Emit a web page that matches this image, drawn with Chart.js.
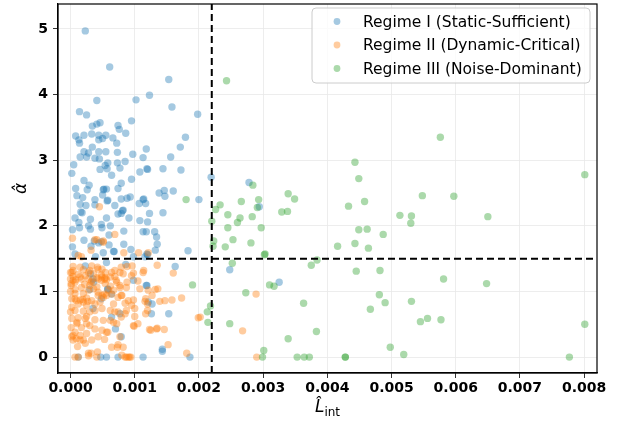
<!DOCTYPE html>
<html>
<head>
<meta charset="utf-8">
<script src="https://cdn.jsdelivr.net/npm/chart.js@4.4.0/dist/chart.umd.min.js"></script>
<style>
    html, body { margin: 0; padding: 0; background: #ffffff; }
</style>
</head>
<body>
<canvas id="regimeChart" width="618" height="427"></canvas>
<script>
// data: [L_int, alpha]
const regime1Points = [
    [0.00023, 4.97], [0.00061, 4.42], [0.00153, 4.23], [0.00123, 3.99], [0.00102, 3.92],
    [0.00041, 3.91], [0.00158, 3.81], [0.00014, 3.74], [0.00025, 3.69], [0.00198, 3.70],
    [0.00095, 3.60], [0.00046, 3.57], [0.00041, 3.55], [0.00034, 3.52], [0.00074, 3.53],
    [0.00076, 3.47], [0.00086, 3.41], [0.00008, 3.37], [0.00021, 3.38], [0.00033, 3.40],
    [0.00044, 3.38], [0.00055, 3.38], [0.00066, 3.34], [0.00179, 3.35], [0.00013, 3.31],
    [0.00050, 3.33], [0.00072, 3.26], [0.00014, 3.26], [0.00044, 3.31], [0.00034, 3.20],
    [0.00118, 3.17], [0.00171, 3.20], [0.00021, 3.13], [0.00028, 3.11], [0.00044, 3.13],
    [0.00055, 3.13], [0.00073, 3.12], [0.00097, 3.09], [0.00015, 3.05], [0.00025, 3.05],
    [0.00038, 3.03], [0.00045, 3.02], [0.00113, 3.04], [0.00156, 3.05], [0.00085, 2.98],
    [0.00058, 2.96], [0.00073, 2.96], [0.00005, 2.93], [0.00054, 2.92], [0.00077, 2.88],
    [0.00046, 2.86], [0.00057, 2.87], [0.00119, 2.87], [0.00120, 2.86], [0.00144, 2.87],
    [0.00172, 2.85], [0.00002, 2.80], [0.00108, 2.82], [0.00064, 2.77], [0.00095, 2.71],
    [0.00021, 2.69], [0.00079, 2.65], [0.00029, 2.62], [0.00008, 2.57], [0.00026, 2.55],
    [0.00051, 2.55], [0.00052, 2.56], [0.00056, 2.56], [0.00074, 2.57], [0.00138, 2.50],
    [0.00146, 2.54], [0.00147, 2.45], [0.00160, 2.53], [0.00010, 2.46], [0.00019, 2.43],
    [0.00050, 2.47], [0.00038, 2.40], [0.00057, 2.38], [0.00058, 2.39], [0.00079, 2.41],
    [0.00088, 2.42], [0.00093, 2.44], [0.00113, 2.40], [0.00114, 2.41], [0.00117, 2.34],
    [0.00107, 2.34], [0.00200, 2.40], [0.00015, 2.33], [0.00024, 2.31], [0.00038, 2.32],
    [0.00069, 2.31], [0.00081, 2.23], [0.00082, 2.24], [0.00123, 2.19], [0.00144, 2.20],
    [0.00016, 2.21], [0.00079, 2.19], [0.00007, 2.12], [0.00018, 2.20], [0.00013, 2.05],
    [0.00031, 2.10], [0.00028, 2.00], [0.00048, 2.02], [0.00056, 2.12], [0.00074, 2.18],
    [0.00091, 2.12], [0.00108, 2.08], [0.00120, 2.06], [0.00003, 1.94], [0.00014, 1.97],
    [0.00031, 1.95], [0.00049, 1.97], [0.00062, 2.00], [0.00060, 1.86], [0.00083, 1.92],
    [0.00113, 1.91], [0.00118, 1.91], [0.00131, 1.91], [0.00134, 1.83], [0.00135, 1.72],
    [0.00132, 1.63], [0.00021, 1.78], [0.00037, 1.77], [0.00048, 1.76], [0.00003, 1.68],
    [0.00032, 1.69], [0.00044, 1.74], [0.00060, 1.71], [0.00083, 1.72], [0.00094, 1.64],
    [0.00068, 1.61], [0.00051, 1.59], [0.00039, 1.53], [0.00007, 1.57], [0.00056, 1.44],
    [0.00086, 1.41], [0.00119, 1.57], [0.00120, 1.56], [0.00183, 1.62], [0.00163, 1.38],
    [0.00118, 1.09], [0.00031, 1.27], [0.00035, 1.19], [0.00058, 1.04], [0.00067, 1.61],
    [0.00098, 1.53], [0.00116, 1.53], [0.00023, 1.39], [0.00036, 1.14], [0.00064, 0.96],
    [0.00098, 1.17], [0.00119, 1.09], [0.00058, 1.03], [0.00121, 0.84], [0.00153, 0.66],
    [0.00126, 0.66], [0.00077, 0.66], [0.00064, 0.61], [0.00035, 0.74], [0.00030, 1.03],
    [0.00048, 0.89], [0.00070, 0.43], [0.00079, 0.31], [0.00143, 0.12], [0.00186, 0.00],
    [0.00012, 0.00], [0.00047, 0.00], [0.00056, 0.00], [0.00074, 0.00], [0.00113, 0.00],
    [0.00127, 0.81], [0.00143, 0.09], [0.00219, 2.74], [0.00278, 2.66], [0.00294, 2.29],
    [0.00248, 1.33], [0.00325, 1.14]
];

const regime2Points = [
    [0.00045, 2.29], [0.00003, 1.81], [0.00069, 1.87], [0.00041, 1.79], [0.00038, 1.79],
    [0.00051, 1.75], [0.00032, 1.63], [0.00012, 1.55], [0.00017, 1.53], [0.00083, 1.59],
    [0.00106, 1.59], [0.00121, 1.59], [0.00135, 1.40], [0.00160, 1.28], [0.00114, 1.32],
    [0.00098, 1.28], [0.00079, 1.37], [0.00064, 1.29], [0.00043, 1.34], [0.00030, 1.32],
    [0.00048, 1.25], [0.00004, 1.32], [0.00012, 1.26], [0.00004, 1.17], [0.00017, 1.19],
    [0.00022, 1.11], [0.00032, 1.14], [0.00048, 1.17], [0.00053, 1.19], [0.00071, 1.17],
    [0.00077, 1.09], [0.00095, 1.24], [0.00105, 1.16], [0.00087, 1.06], [0.00001, 1.09],
    [0.00096, 1.39], [0.00113, 1.29], [0.00088, 1.38], [0.00069, 1.32], [0.00082, 1.27],
    [0.00132, 1.03], [0.00108, 1.04], [0.00121, 1.02], [0.00127, 0.94], [0.00173, 0.90],
    [0.00158, 0.87], [0.00147, 0.86], [0.00139, 0.85], [0.00116, 0.85], [0.00098, 0.87],
    [0.00095, 0.79], [0.00085, 0.82], [0.00080, 0.94], [0.00074, 0.91], [0.00067, 0.81],
    [0.00062, 0.71], [0.00069, 0.69], [0.00100, 0.74], [0.00100, 0.62], [0.00085, 0.66],
    [0.00125, 0.41], [0.00134, 0.43], [0.00146, 0.42], [0.00098, 0.48], [0.00056, 0.38],
    [0.00053, 0.27], [0.00051, 0.56], [0.00077, 0.31], [0.00064, 0.15], [0.00073, 0.15],
    [0.00082, 0.15], [0.00080, 0.03], [0.00085, 0.00], [0.00090, 0.00], [0.00094, 0.00],
    [0.00042, 0.08], [0.00028, 0.02], [0.00012, 0.00], [0.00011, 0.16], [0.00023, 0.21],
    [0.00015, 0.26], [0.00004, 0.26], [0.00002, 0.31], [0.00007, 0.38], [0.00001, 0.45],
    [0.00010, 0.51], [0.00017, 0.45], [0.00025, 0.51], [0.00038, 0.57], [0.00025, 0.62],
    [0.00012, 0.60], [0.00002, 0.59], [0.00030, 0.69], [0.00038, 0.71], [0.00049, 0.74],
    [0.00020, 0.70], [0.00007, 0.71], [0.00000, 0.69], [0.00025, 0.79], [0.00020, 0.84],
    [0.00012, 0.81], [0.00002, 0.76], [0.00007, 0.89], [0.00015, 0.87], [0.00025, 0.90],
    [0.00033, 0.86], [0.00038, 0.81], [0.00046, 0.84], [0.00056, 0.94], [0.00064, 0.96],
    [0.00051, 0.91], [0.00000, 1.00], [0.00007, 1.03], [0.00017, 1.06], [0.00030, 1.09],
    [0.00041, 1.07], [0.00054, 1.12], [0.00062, 1.08], [0.00072, 1.14], [0.00077, 1.06],
    [0.00088, 1.14], [0.00069, 1.23], [0.00077, 1.29], [0.00062, 1.22], [0.00054, 1.21],
    [0.00043, 1.19], [0.00036, 1.27], [0.00028, 1.29], [0.00020, 1.33], [0.00015, 1.37],
    [0.00004, 1.38], [0.00000, 1.29], [0.00000, 1.19], [0.00007, 1.14], [0.00181, 0.06],
    [0.00199, 0.60], [0.00152, 0.19], [0.00135, 0.44], [0.00123, 0.42], [0.00099, 0.47],
    [0.00074, 0.19], [0.00117, 0.89], [0.00120, 0.81], [0.00117, 0.66], [0.00120, 0.71],
    [0.00087, 0.71], [0.00074, 0.69], [0.00079, 0.61], [0.00092, 0.00], [0.00087, 0.00],
    [0.00032, 0.06], [0.00007, 0.00], [0.00041, 0.00], [0.00058, 0.38], [0.00009, 0.28],
    [0.00004, 0.33], [0.00028, 0.06], [0.00105, 0.51], [0.00136, 1.04], [0.00051, 1.77],
    [0.00002, 0.89], [0.00009, 0.86], [0.00019, 0.88], [0.00027, 0.85], [0.00043, 0.94],
    [0.00053, 0.96], [0.00079, 0.94], [0.00090, 0.86], [0.00289, 0.96], [0.00268, 0.40],
    [0.00290, 0.00], [0.00202, 0.61],
    [0.00002, 1.29], [0.00004, 1.23], [0.00001, 1.12], [0.00008, 1.18], [0.00015, 1.22],
    [0.00023, 1.24], [0.00028, 1.19], [0.00033, 1.16], [0.00041, 1.21], [0.00049, 1.22],
    [0.00056, 1.18], [0.00054, 1.29], [0.00049, 1.34], [0.00042, 1.37], [0.00033, 1.39],
    [0.00007, 0.97], [0.00020, 0.97], [0.00028, 1.02], [0.00036, 1.04], [0.00043, 0.99],
    [0.00049, 0.94], [0.00059, 1.02], [0.00067, 1.02], [0.00023, 0.59], [0.00010, 0.53],
    [0.00030, 0.48], [0.00038, 0.43], [0.00025, 0.36], [0.00015, 0.33], [0.00020, 0.26],
    [0.00033, 0.26], [0.00043, 0.31], [0.00049, 0.41], [0.00062, 0.56], [0.00067, 0.53],
    [0.00072, 0.51]
];

const regime3Points = [
    [0.00443, 2.97], [0.00449, 2.72], [0.00284, 2.62], [0.00339, 2.49], [0.00349, 2.41],
    [0.00266, 2.37], [0.00293, 2.40], [0.00233, 2.32], [0.00226, 2.25], [0.00291, 2.28],
    [0.00245, 2.17], [0.00283, 2.14], [0.00264, 2.12], [0.00260, 2.05], [0.00329, 2.21],
    [0.00338, 2.22], [0.00433, 2.30], [0.00458, 2.37], [0.00513, 2.16], [0.00220, 2.07],
    [0.00245, 1.97], [0.00297, 1.97], [0.00449, 1.94], [0.00462, 1.95], [0.00487, 1.87],
    [0.00223, 1.77], [0.00253, 1.79], [0.00281, 1.74], [0.00222, 1.69], [0.00241, 1.68],
    [0.00416, 1.69], [0.00443, 1.73], [0.00464, 1.66], [0.00303, 1.57], [0.00302, 1.56],
    [0.00252, 1.43], [0.00375, 1.40], [0.00384, 1.48], [0.00445, 1.31], [0.00482, 1.32],
    [0.00310, 1.10], [0.00317, 1.08], [0.00273, 0.98], [0.00481, 0.95], [0.00490, 0.83],
    [0.00467, 0.73], [0.00363, 0.82], [0.00218, 0.78], [0.00213, 0.69], [0.00214, 0.53],
    [0.00248, 0.51], [0.00383, 0.39], [0.00339, 0.28], [0.00301, 0.10], [0.00498, 0.15],
    [0.00299, 0.00], [0.00353, 0.00], [0.00364, 0.00], [0.00372, 0.00], [0.00428, 0.00],
    [0.00428, 0.00], [0.00576, 3.35], [0.00801, 2.78], [0.00548, 2.46], [0.00597, 2.45],
    [0.00531, 2.15], [0.00530, 2.04], [0.00650, 2.14], [0.00581, 1.19], [0.00648, 1.12],
    [0.00531, 0.85], [0.00545, 0.54], [0.00556, 0.59], [0.00577, 0.57], [0.00801, 0.50],
    [0.00519, 0.04], [0.00777, 0.00], [0.00243, 4.21], [0.00180, 2.40], [0.00190, 1.10]
];

const regimeLabels = [
    'Regime I (Static-Sufficient)',
    'Regime II (Dynamic-Critical)',
    'Regime III (Noise-Dominant)'
];
const regimeColors = ['rgba(31,119,180,0.4)', 'rgba(255,127,14,0.4)', 'rgba(44,160,44,0.4)'];

const xTicks = [0, 0.001, 0.002, 0.003, 0.004, 0.005, 0.006, 0.007, 0.008];
const yTicks = [0, 1, 2, 3, 4, 5];
const xRange = [-0.000195, 0.0082];
const yRange = [-0.242, 5.38];

// threshold lines
const lThreshold = 0.0022;
const alphaThreshold = 1.5;

function toXY(points) {
    return points.map(function (p) { return { x: p[0], y: p[1] }; });
}

const extraDraw = {
    id: 'extraDraw',
    afterDraw(chart) {
        const ctx = chart.ctx;
        const area = chart.chartArea;
        ctx.save();
        // axes box
        ctx.strokeStyle = '#000000';
        ctx.lineWidth = 1.2;
        ctx.strokeRect(area.left, area.top, area.right - area.left, area.bottom - area.top);

        // x title: L-hat with subscript int
        const cx = (area.left + area.right) / 2;
        ctx.fillStyle = '#000000';
        ctx.textBaseline = 'alphabetic';
        ctx.font = 'italic 17px "DejaVu Sans"';
        const mainW = ctx.measureText('L\u0302').width;
        ctx.font = '12px "DejaVu Sans"';
        const subW = ctx.measureText('int').width;
        const startX = cx - (mainW + subW) / 2;
        ctx.font = 'italic 17px "DejaVu Sans"';
        ctx.textAlign = 'left';
        ctx.fillText('L\u0302', startX, 412);
        ctx.font = '12px "DejaVu Sans"';
        ctx.fillText('int', startX + mainW, 416);

        // y title
        ctx.translate(26, (area.top + area.bottom) / 2);
        ctx.rotate(-Math.PI / 2);
        ctx.font = 'italic 17px "DejaVu Sans"';
        ctx.textAlign = 'center';
        ctx.fillText('\u03b1\u0302', 0, 0);
        ctx.restore();

        // legend box
        ctx.save();
        const bx = 312, by = 8, bw = 278, bh = 75;
        ctx.beginPath();
        ctx.roundRect(bx, by, bw, bh, 4);
        ctx.fillStyle = 'rgba(255,255,255,0.8)';
        ctx.fill();
        ctx.strokeStyle = '#cccccc';
        ctx.lineWidth = 1;
        ctx.stroke();
        ctx.font = '15.5px "DejaVu Sans"';
        ctx.textBaseline = 'middle';
        ctx.textAlign = 'left';
        for (let i = 0; i < regimeLabels.length; i++) {
            const ly = 21.5 + i * 23.5;
            ctx.beginPath();
            ctx.arc(337, ly, 3.4, 0, Math.PI * 2);
            ctx.fillStyle = regimeColors[i];
            ctx.fill();
            ctx.fillStyle = '#000000';
            ctx.fillText(regimeLabels[i], 363, ly + 1);
        }
        ctx.restore();
    }
};

function noScalePadding(scale) {
    scale.paddingTop = 0;
    scale.paddingBottom = 0;
    scale.paddingLeft = 0;
    scale.paddingRight = 0;
}

const ctx = document.getElementById('regimeChart').getContext('2d');
const myChart = new Chart(ctx, {
    type: 'scatter',
    data: {
        datasets: [
            {
                label: 'threshold L',
                data: [{ x: lThreshold, y: yRange[0] }, { x: lThreshold, y: yRange[1] }],
                showLine: true,
                borderColor: '#000000',
                borderWidth: 2,
                borderDash: [7, 4],
                pointRadius: 0,
                order: 0
            },
            {
                label: 'threshold alpha',
                data: [{ x: xRange[0], y: alphaThreshold }, { x: xRange[1], y: alphaThreshold }],
                showLine: true,
                borderColor: '#000000',
                borderWidth: 2,
                borderDash: [7, 4],
                pointRadius: 0,
                order: 0
            },
            {
                label: regimeLabels[2],
                data: toXY(regime3Points),
                backgroundColor: regimeColors[2],
                borderWidth: 0,
                pointRadius: 3.7,
                order: 1
            },
            {
                label: regimeLabels[1],
                data: toXY(regime2Points),
                backgroundColor: regimeColors[1],
                borderWidth: 0,
                pointRadius: 3.7,
                order: 2
            },
            {
                label: regimeLabels[0],
                data: toXY(regime1Points),
                backgroundColor: regimeColors[0],
                borderWidth: 0,
                pointRadius: 3.7,
                order: 3
            }
        ]
    },
    options: {
        responsive: false,
        animation: false,
        layout: {
            padding: { top: 2, right: 21, left: 0, bottom: 0 }
        },
        plugins: {
            legend: { display: false },
            tooltip: { enabled: false }
        },
        scales: {
            x: {
                type: 'linear',
                min: xRange[0],
                max: xRange[1],
                afterBuildTicks: function (scale) {
                    scale.ticks = xTicks.map(function (v) { return { value: v }; });
                },
                afterFit: function (scale) {
                    scale.height = 54;
                    noScalePadding(scale);
                },
                border: { color: '#000000', width: 1.2 },
                grid: {
                    color: '#e8e8e8',
                    lineWidth: 0.8,
                    tickColor: '#000000',
                    tickLength: 5
                },
                ticks: {
                    color: '#000000',
                    padding: 2,
                    maxRotation: 0,
                    autoSkip: false,
                    font: { family: 'DejaVu Sans', size: 14, weight: 'bold' },
                    callback: function (value) { return value.toFixed(3); }
                }
            },
            y: {
                type: 'linear',
                min: yRange[0],
                max: yRange[1],
                afterBuildTicks: function (scale) {
                    scale.ticks = yTicks.map(function (v) { return { value: v }; });
                },
                afterFit: function (scale) {
                    scale.width = 58;
                    noScalePadding(scale);
                },
                border: { color: '#000000', width: 1.2 },
                grid: {
                    color: '#e8e8e8',
                    lineWidth: 0.8,
                    tickColor: '#000000',
                    tickLength: 5
                },
                ticks: {
                    color: '#000000',
                    padding: 5,
                    font: { family: 'DejaVu Sans', size: 14, weight: 'bold' },
                    callback: function (value) { return String(value); }
                }
            }
        }
    },
    plugins: [extraDraw]
});
</script>
</body>
</html>
